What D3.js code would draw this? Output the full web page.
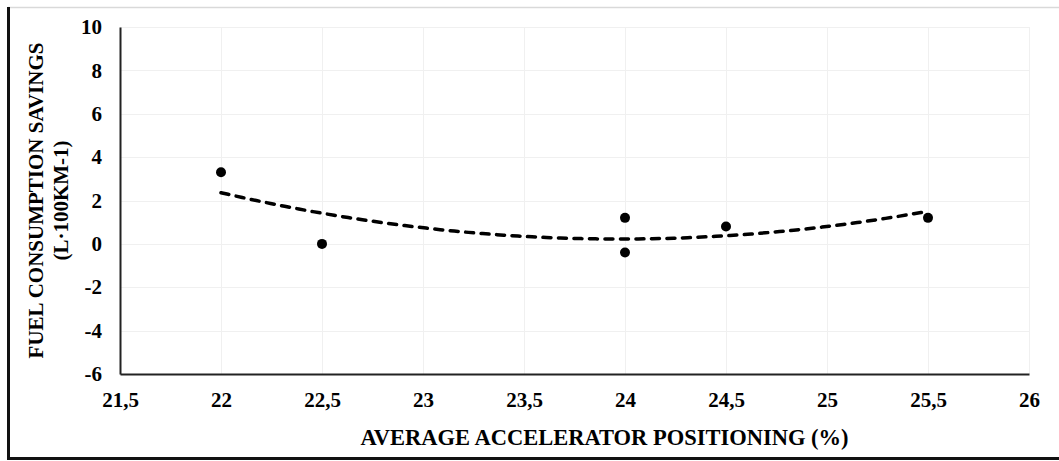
<!DOCTYPE html>
<html>
<head>
<meta charset="utf-8">
<script src="https://cdn.jsdelivr.net/npm/d3@7"></script>
<style>
  html, body { margin: 0; padding: 0; background: #fff; }
  svg { display: block; }
  text { font-family: "Liberation Serif", "Times New Roman", serif; font-weight: bold; fill: #000; }
</style>
</head>
<body>
<script>
// ---- data ----
const xValues = [22, 22.5, 24, 24, 24.5, 25.5];
const yValues = [3.3, 0, 1.2, -0.4, 0.8, 1.2];
const xTicks = [21.5, 22, 22.5, 23, 23.5, 24, 24.5, 25, 25.5, 26];
const yTicks = [-6, -4, -2, 0, 2, 4, 6, 8, 10];
const xTitle = "AVERAGE ACCELERATOR POSITIONING (%)";
const yTitleLines = ["FUEL CONSUMPTION SAVINGS", "(L·100KM-1)"];

const W = 1059, H = 461;
const plot = { left: 120, right: 1029, top: 27, bottom: 374 };

const svg = d3.select("body").append("svg").attr("width", W).attr("height", H);

// frame
svg.append("line").attr("x1", 8).attr("x2", W).attr("y1", 7.5).attr("y2", 7.5)
  .attr("stroke", "#d9d9d9").attr("stroke-width", 1.5);
svg.append("line").attr("x1", 8.5).attr("x2", 8.5).attr("y1", 7).attr("y2", 459.5)
  .attr("stroke", "#111").attr("stroke-width", 3);
svg.append("line").attr("x1", 7).attr("x2", W).attr("y1", 458.5).attr("y2", 458.5)
  .attr("stroke", "#111").attr("stroke-width", 3);

const x = d3.scaleLinear().domain([21.5, 26]).range([plot.left, plot.right]);
const y = d3.scaleLinear().domain([-6, 10]).range([plot.bottom, plot.top]);

const loc = d3.formatLocale({ decimal: ",", thousands: ".", grouping: [3], currency: ["", ""], minus: "-" });
const fmt = loc.format("~g");

// gridlines
svg.append("g").selectAll("line").data(yTicks).join("line")
  .attr("x1", plot.left).attr("x2", plot.right)
  .attr("y1", d => Math.round(y(d)) + 0.5).attr("y2", d => Math.round(y(d)) + 0.5)
  .attr("stroke", "#f0f0f0").attr("stroke-width", 1);
svg.append("g").selectAll("line").data(xTicks).join("line")
  .attr("y1", plot.top).attr("y2", plot.bottom)
  .attr("x1", d => Math.round(x(d)) + 0.5).attr("x2", d => Math.round(x(d)) + 0.5)
  .attr("stroke", "#f0f0f0").attr("stroke-width", 1);

// axes
const xAxis = svg.append("g").attr("transform", `translate(0,${plot.bottom})`)
  .call(d3.axisBottom(x).tickValues(xTicks).tickFormat(fmt).tickSize(0).tickPadding(18));
xAxis.select(".domain").attr("stroke", "#222").attr("stroke-width", 2);
xAxis.selectAll("text").attr("font-size", 21).attr("font-family", "Liberation Serif").attr("font-weight", "bold").attr("fill", "#000");

const yAxis = svg.append("g").attr("transform", `translate(${plot.left},0)`)
  .call(d3.axisLeft(y).tickValues(yTicks).tickFormat(fmt).tickSize(0).tickPadding(18));
yAxis.select(".domain").attr("stroke", "#222").attr("stroke-width", 2);
yAxis.selectAll("text").attr("font-size", 21).attr("font-family", "Liberation Serif").attr("font-weight", "bold").attr("fill", "#000");

// quadratic least-squares trendline (as Excel polynomial order 2)
function polyFit2(xs, ys) {
  const n = xs.length;
  let s = [0, 0, 0, 0, 0], t = [0, 0, 0];
  for (let i = 0; i < n; i++) {
    for (let k = 0; k <= 4; k++) s[k] += Math.pow(xs[i], k);
    for (let k = 0; k <= 2; k++) t[k] += ys[i] * Math.pow(xs[i], k);
  }
  const A = [[s[0], s[1], s[2], t[0]], [s[1], s[2], s[3], t[1]], [s[2], s[3], s[4], t[2]]];
  for (let i = 0; i < 3; i++) {
    let p = i;
    for (let r = i + 1; r < 3; r++) if (Math.abs(A[r][i]) > Math.abs(A[p][i])) p = r;
    [A[i], A[p]] = [A[p], A[i]];
    for (let r = 0; r < 3; r++) {
      if (r === i) continue;
      const f = A[r][i] / A[i][i];
      for (let c = i; c < 4; c++) A[r][c] -= f * A[i][c];
    }
  }
  return [A[0][3] / A[0][0], A[1][3] / A[1][1], A[2][3] / A[2][2]];
}
const coef = polyFit2(xValues, yValues);
const x0 = d3.min(xValues), x1 = d3.max(xValues);
const trendPts = d3.range(0, 101).map(i => {
  const xv = x0 + (x1 - x0) * i / 100;
  return [xv, coef[0] + coef[1] * xv + coef[2] * xv * xv];
});
svg.append("path").datum(trendPts)
  .attr("d", d3.line().x(d => x(d[0])).y(d => y(d[1])))
  .attr("fill", "none").attr("stroke", "#000").attr("stroke-width", 3.5)
  .attr("stroke-linecap", "round").attr("stroke-dasharray", "8 7.5");

// points
svg.append("g").selectAll("circle").data(xValues.map((v, i) => [v, yValues[i]])).join("circle")
  .attr("cx", d => x(d[0])).attr("cy", d => y(d[1])).attr("r", 5).attr("fill", "#000");

// titles
svg.append("text").attr("x", 604.5).attr("y", 445)
  .attr("text-anchor", "middle").attr("font-size", 22.5).text(xTitle);

const yt = svg.append("text").attr("transform", `translate(36,${(plot.top + plot.bottom) / 2}) rotate(-90)`)
  .attr("text-anchor", "middle").attr("font-size", 21);
yt.append("tspan").attr("x", 0).attr("dy", "0.35em").text(yTitleLines[0]);
yt.append("tspan").attr("x", 0).attr("dy", 25).text(yTitleLines[1]);
</script>
</body>
</html>
